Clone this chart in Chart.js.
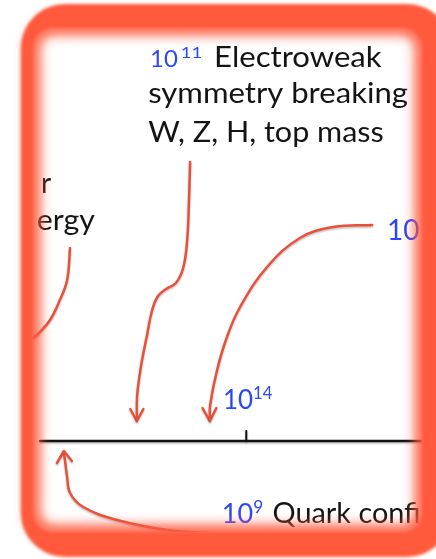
<!DOCTYPE html>
<html>
<head>
<meta charset="utf-8">
<script src="https://cdn.jsdelivr.net/npm/chart.js@4/dist/chart.umd.min.js"></script>
<style>
  html, body { margin: 0; padding: 0; background: #fff; overflow: hidden; }
  canvas { display: block; }
</style>
</head>
<body>
<canvas id="chart" width="436" height="559"></canvas>
<script>
// x = log10 of energy, y = height above the timeline (px-like units)
// the plot area is the white inside of the red slide frame
const xRange = [8.154, 18.816];
const yRange = [-91, 413];

const timeline = [{ x: 8.35, y: 0 }, { x: 18.84, y: 0 }];
const tickMark = [{ x: 14, y: 0 }, { x: 14, y: 10 }];

const ewArrow = [
  { x: 12.46, y: 279 }, { x: 12.43, y: 241 }, { x: 12.38, y: 201 }, { x: 12.27, y: 173 },
  { x: 12.07, y: 158 }, { x: 11.80, y: 152 }, { x: 11.58, y: 145 }, { x: 11.42, y: 131 },
  { x: 11.28, y: 106 }, { x: 11.12, y: 76 }, { x: 11.01, y: 46 }, { x: 11.0, y: 21 }
];
const ewHead = [{ x: 10.82, y: 32 }, { x: 11.0, y: 20 }, { x: 11.18, y: 32 }];

const rightArrow = [
  { x: 17.45, y: 216 }, { x: 16.38, y: 214 }, { x: 15.47, y: 203 }, { x: 14.57, y: 174 },
  { x: 13.83, y: 134 }, { x: 13.47, y: 104 }, { x: 13.20, y: 71 }, { x: 13.01, y: 36 },
  { x: 13.0, y: 21 }
];
const rightHead = [{ x: 12.8, y: 33 }, { x: 13.0, y: 20 }, { x: 13.18, y: 33 }];

const leftArrow = [
  { x: 9.17, y: 193 }, { x: 9.09, y: 161 }, { x: 8.89, y: 141 }, { x: 8.62, y: 121 },
  { x: 8.26, y: 106 }, { x: 8.1, y: 102 }
];

const quarkArrow = [
  { x: 12.95, y: -92 }, { x: 11.83, y: -89 }, { x: 10.46, y: -79 }, { x: 9.53, y: -66 },
  { x: 9.17, y: -52 }, { x: 9.09, y: -36 }, { x: 9.03, y: -19 }, { x: 9.0, y: -12 }
];
const quarkHead = [{ x: 8.81, y: -22 }, { x: 9.0, y: -10 }, { x: 9.22, y: -20 }];

// text labels: parts [text, colour, font size, superscript?, horizontal stretch, gap before]
const BLUE = '#2b47f6';
const INK = '#141414';
const labels = [
  { x: 11.36, y: 374, parts: [['10', BLUE, 24], ['11', BLUE, 25, true, 1.15, 3], [' Electroweak', INK, 28, false, 1.11, 2]] },
  { x: 11.31, y: 338, parts: [['symmetry breaking', INK, 28, false, 1.11]] },
  { x: 11.31, y: 299, parts: [['W, Z, H, top mass', INK, 28, false, 1.09]] },
  { x: 8.37, y: 248, parts: [['r', INK, 28]] },
  { x: 8.26, y: 211, parts: [['ergy', INK, 28, false, 1.08]] },
  { x: 17.86, y: 201, parts: [['10', BLUE, 28], ['1', BLUE, 28, true]] },
  { x: 13.36, y: 32, parts: [['10', BLUE, 26], ['14', BLUE, 26, true]] },
  { x: 13.33, y: -82, parts: [['10', BLUE, 27], ['9', BLUE, 27, true], [' Quark confi', INK, 28, false, 1.03]] }
];

const RED = '#ea5038';
const FRAME_RED = '#ff5a3d';
const FONT = 'Lato, "Open Sans", sans-serif';

function line(data, color, width, tension) {
  return {
    data: data, showLine: true, borderColor: color, borderWidth: width,
    pointRadius: 0, tension: tension, fill: false, borderCapStyle: 'round', borderJoinStyle: 'round'
  };
}

function roundRect(ctx, x, y, w, h, r) {
  ctx.moveTo(x + r, y);
  ctx.arcTo(x + w, y, x + w, y + h, r);
  ctx.arcTo(x + w, y + h, x, y + h, r);
  ctx.arcTo(x, y + h, x, y, r);
  ctx.arcTo(x, y, x + w, y, r);
  ctx.closePath();
}

const slidePlugin = {
  id: 'slide',
  beforeDatasetsDraw(chart) {
    const ctx = chart.ctx;
    ctx.save();
    ctx.shadowColor = 'rgba(0,0,0,0.25)';
    ctx.shadowBlur = 2;
    ctx.shadowOffsetY = 1.5;
  },
  afterDatasetsDraw(chart) {
    const ctx = chart.ctx;
    ctx.restore();
    const xs = chart.scales.x, ys = chart.scales.y, a = chart.chartArea;
    ctx.save();
    ctx.beginPath();
    ctx.rect(a.left, a.top, a.right - a.left, a.bottom - a.top);
    ctx.clip();
    ctx.textBaseline = 'alphabetic';
    labels.forEach(l => {
      let px = xs.getPixelForValue(l.x);
      const py = ys.getPixelForValue(l.y);
      l.parts.forEach(p => {
        const sup = p[3];
        const stretch = p[4] || 1;
        const sz = sup ? p[2] * 0.64 : p[2];
        px += p[5] || 0;
        ctx.font = sz + 'px ' + FONT;
        ctx.fillStyle = p[1];
        ctx.save();
        ctx.translate(px, sup ? py - p[2] * 0.37 : py);
        ctx.scale(stretch, 1);
        ctx.fillText(p[0], 0, 0);
        ctx.restore();
        px += ctx.measureText(p[0]).width * stretch + (sup ? 2 : 0);
      });
    });
    ctx.restore();
  },
  afterDraw(chart) {
    // glowing red frame laid over the slide
    const ctx = chart.ctx;
    ctx.save();
    ctx.fillStyle = FRAME_RED;
    ctx.strokeStyle = FRAME_RED;
    ctx.filter = 'blur(1.5px)';
    ctx.beginPath();
    roundRect(ctx, 21, 4, 430, 553, 44);
    roundRect(ctx, 33, 28, 389, 504, 20);
    ctx.fill('evenodd');
    ctx.filter = 'blur(6px)';
    ctx.lineWidth = 14;
    ctx.beginPath();
    roundRect(ctx, 33, 28, 389, 504, 20);
    ctx.stroke();
    ctx.restore();
  }
};

new Chart(document.getElementById('chart'), {
  type: 'scatter',
  data: {
    datasets: [
      line(timeline, '#111', 2.5, 0),
      line(tickMark, '#111', 2, 0),
      line(ewArrow, RED, 2.5, 0.4),
      line(ewHead, RED, 2.5, 0),
      line(rightArrow, RED, 2.5, 0.4),
      line(rightHead, RED, 2.5, 0),
      line(leftArrow, RED, 2.5, 0.4),
      line(quarkArrow, RED, 2.5, 0.4),
      line(quarkHead, RED, 2.5, 0)
    ]
  },
  options: {
    responsive: false,
    animation: false,
    layout: { padding: { left: 33, top: 28, right: 14, bottom: 27 } },
    plugins: { legend: { display: false }, tooltip: { enabled: false } },
    scales: {
      x: { type: 'linear', min: xRange[0], max: xRange[1], display: false },
      y: { type: 'linear', min: yRange[0], max: yRange[1], display: false }
    }
  },
  plugins: [slidePlugin]
});
</script>
</body>
</html>
